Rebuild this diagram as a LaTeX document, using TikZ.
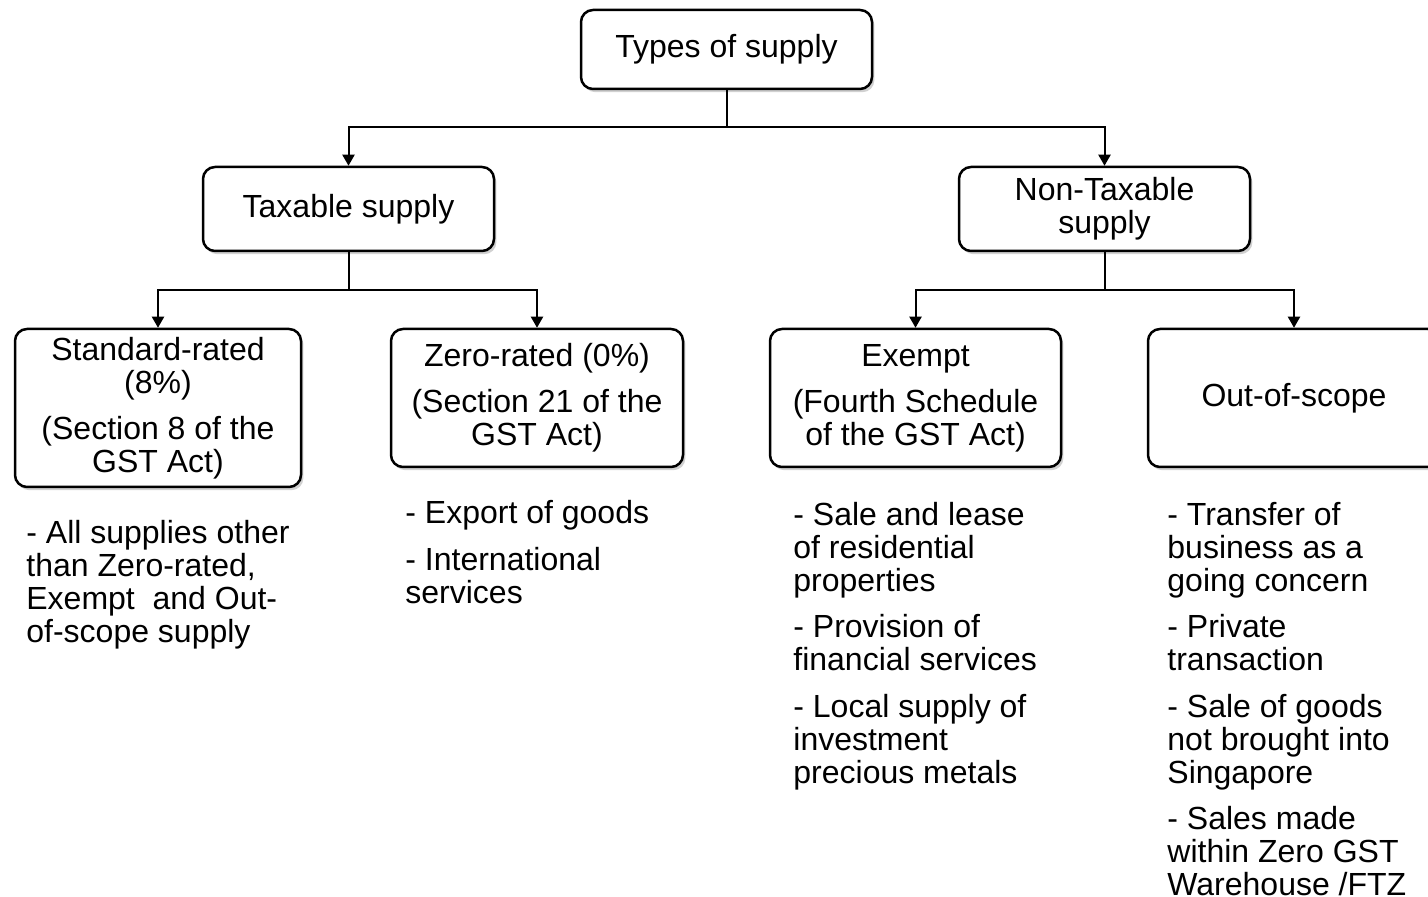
\documentclass[tikz,border=0pt]{standalone}
\usepackage{fontspec}
\setmainfont{Liberation Sans}
\usetikzlibrary{arrows.meta,shadows}
\begin{document}
\begin{tikzpicture}[x=0.5pt,y=-0.5pt,
  box/.style={draw=black, line width=1.25pt, rounded corners=6pt, fill=white, align=center,
    font=\fontsize{16pt}{16.5pt}\selectfont, inner sep=0pt,
    drop shadow={shadow xshift=1.2pt, shadow yshift=-1.6pt, fill=black, opacity=0.18}},
  list/.style={anchor=north west, inner sep=0pt, align=left, font=\fontsize{16pt}{16.5pt}\selectfont},
  conn/.style={line width=1pt},
  arr/.style={line width=1pt, -{Triangle[width=6pt,length=5.5pt]}}]
\useasboundingbox (0,0) rectangle (1428,897);
% boxes
\node[box, minimum width=145.5pt, minimum height=39.5pt] (root) at (726.5,49.5) {Types of supply};
\node[box, minimum width=145.5pt, minimum height=42pt] (tax) at (348.5,209) {Taxable supply};
\node[box, minimum width=145.5pt, minimum height=42pt] (ntax) at (1104.5,209) {Non-Taxable\\supply};
\node[box, minimum width=143pt, minimum height=79pt] (std) at (158,408) {Standard-rated\\(8\%)\\[6.5pt](Section 8 of the\\GST Act)};
\node[box, minimum width=146pt, minimum height=69pt] (zero) at (537,398) {Zero-rated (0\%)\\[6.5pt](Section 21 of the\\GST Act)};
\node[box, minimum width=145.5pt, minimum height=69pt] (ex) at (915.5,398) {Exempt\\[6.5pt](Fourth Schedule\\of the GST Act)};
\node[box, minimum width=146pt, minimum height=69pt] (out) at (1294,398) {Out-of-scope};
% connectors
\coordinate (j0) at (726.5,127);
\coordinate (j1) at (348.5,290);
\coordinate (j2) at (1104.5,290);
\draw[conn] (root.south) -- (j0);
\draw[arr] (j0) -| (tax.north);
\draw[arr] (j0) -| (ntax.north);
\draw[conn] (tax.south) -- (j1);
\draw[arr] (j1) -| (std.north);
\draw[arr] (j1) -| (zero.north);
\draw[conn] (ntax.south) -- (j2);
\draw[arr] (j2) -| (ex.north);
\draw[arr] (j2) -| (out.north);
% lists
\node[list] (l1) at (26,519.5) {- All supplies other\\than Zero-rated,\\Exempt\ \ and Out-\\of-scope supply};
\node[list] (l2) at (405,499.5) {- Export of goods\\[7pt]- International\\services};
\node[list] (l3) at (793,501.5) {- Sale and lease\\of residential\\properties\\[6.5pt]- Provision of\\financial services\\[7pt]- Local supply of\\investment\\precious metals};
\node[list] (l4) at (1167,501.5) {- Transfer of\\business as a\\going concern\\[6.5pt]- Private\\transaction\\[7pt]- Sale of goods\\not brought into\\Singapore\\[6.5pt]- Sales made\\within Zero GST\\Warehouse /FTZ};
\end{tikzpicture}
\end{document}
